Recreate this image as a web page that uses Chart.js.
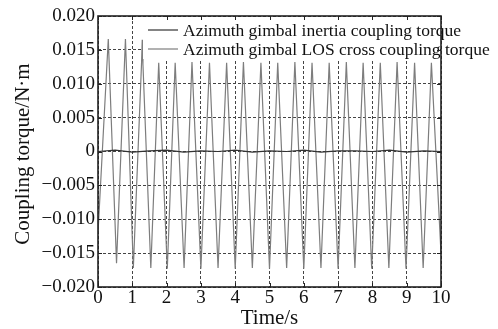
<!DOCTYPE html>
<html>
<head>
<meta charset="utf-8">
<script src="https://cdn.jsdelivr.net/npm/chart.js@4.4.0/dist/chart.umd.min.js"></script>
<style>
  html, body { margin: 0; padding: 0; background: #fff; }
</style>
</head>
<body>
<canvas id="chart" width="498" height="329"></canvas>
<script>
// legend names
const seriesNames = [
  "Azimuth gimbal inertia coupling torque",
  "Azimuth gimbal LOS cross coupling torque"
];

// inertia coupling torque, stays close to zero
const inertiaTime = [0, 0.5, 1, 1.5, 2, 2.5, 3, 3.5, 4, 4.5, 5, 5.5, 6, 6.5, 7, 7.5, 8, 8.5, 9, 9.5, 10];
const inertiaTorque = [0.0000, 0.0002, -0.0001, 0.0001, 0.0002, -0.0001, 0.0001, 0.0000, 0.0002, -0.0001,
  0.0001, 0.0000, 0.0002, -0.0001, 0.0001, 0.0001, 0.0000, 0.0002, -0.0001, 0.0001, 0.0000];

// LOS cross coupling torque, peaks and troughs
const crossTime = [0.00, 0.30, 0.54, 0.80, 1.03, 1.27, 1.29, 1.31, 1.54, 1.77, 2.02, 2.25, 2.51, 2.74, 3.00,
  3.25, 3.50, 3.75, 4.00, 4.24, 4.50, 4.75, 5.00, 5.24, 5.50, 5.74, 6.00, 6.24, 6.50, 6.74, 7.00,
  7.24, 7.49, 7.73, 7.98, 8.23, 8.48, 8.72, 8.98, 9.23, 9.48, 9.72, 10.00];
const crossTorque = [-0.0120, 0.0166, -0.0165, 0.0166, -0.0172, 0.0131, 0.0165, 0.0129, -0.0172, 0.0131, -0.0173,
  0.0131, -0.0172, 0.0132, -0.0173, 0.0131, -0.0172, 0.0131, -0.0173, 0.0132, -0.0172, 0.0131, -0.0173,
  0.0131, -0.0172, 0.0132, -0.0173, 0.0131, -0.0172, 0.0131, -0.0173, 0.0132, -0.0172, 0.0131, -0.0173,
  0.0131, -0.0172, 0.0132, -0.0173, 0.0131, -0.0172, 0.0131, -0.0150];

const xTicks = [0, 1, 2, 3, 4, 5, 6, 7, 8, 9, 10];
const yTicks = [-0.020, -0.015, -0.010, -0.005, 0, 0.005, 0.010, 0.015, 0.020];
const xTitle = "Time/s";
const yTitle = "Coupling torque/N\u00b7m";

const serif = "'Liberation Serif', 'Times New Roman', serif";

function pairs(xs, ys) {
  return xs.map((x, i) => ({ x: x, y: ys[i] }));
}

// white legend box over the top of the plot
const legendBox = {
  id: "legendBox",
  afterDatasetsDraw(chart) {
    let ctx = chart.ctx;
    let area = chart.chartArea;
    ctx.save();
    ctx.fillStyle = "#fff";
    ctx.fillRect(143, area.top + 1, area.right - 144, 42);
    ctx.font = "17.5px " + serif;
    ctx.textBaseline = "middle";
    chart.data.datasets.forEach((ds, i) => {
      let y = 30 + i * 19;
      ctx.strokeStyle = ds.borderColor;
      ctx.lineWidth = 1.2;
      ctx.beginPath();
      ctx.moveTo(148, y);
      ctx.lineTo(178, y);
      ctx.stroke();
      ctx.fillStyle = "#111";
      ctx.fillText(ds.label, 183, y + 1);
    });
    ctx.restore();
  }
};

// frame, inward tick marks and the rotated y title
const frame = {
  id: "frame",
  afterDraw(chart) {
    let ctx = chart.ctx;
    let a = chart.chartArea;
    let xs = chart.scales.x;
    let ys = chart.scales.y;
    ctx.save();
    ctx.strokeStyle = "#222";
    ctx.lineWidth = 1;
    ctx.beginPath();
    xTicks.forEach(t => {
      let px = Math.round(xs.getPixelForValue(t)) + 0.5;
      ctx.moveTo(px, a.bottom); ctx.lineTo(px, a.bottom - 4);
      ctx.moveTo(px, a.top); ctx.lineTo(px, a.top + 4);
    });
    yTicks.forEach(t => {
      let py = Math.round(ys.getPixelForValue(t)) + 0.5;
      ctx.moveTo(a.left, py); ctx.lineTo(a.left + 4, py);
      ctx.moveTo(a.right, py); ctx.lineTo(a.right - 4, py);
    });
    ctx.stroke();
    ctx.lineWidth = 1.6;
    ctx.strokeRect(a.left, a.top, a.right - a.left, a.bottom - a.top);

    ctx.translate(23, 154);
    ctx.rotate(-Math.PI / 2);
    ctx.font = "21px " + serif;
    ctx.fillStyle = "#111";
    ctx.textAlign = "center";
    ctx.textBaseline = "middle";
    ctx.fillText(yTitle, 0, 0);
    ctx.restore();
  }
};

let ctx = document.getElementById("chart").getContext("2d");
let myChart = new Chart(ctx, {
  type: "line",
  data: {
    datasets: [
      {
        label: seriesNames[0],
        data: pairs(inertiaTime, inertiaTorque),
        borderColor: "#333",
        borderWidth: 1.2,
        pointRadius: 0,
        tension: 0
      },
      {
        label: seriesNames[1],
        data: pairs(crossTime, crossTorque),
        borderColor: "#7d7d7d",
        borderWidth: 1.2,
        pointRadius: 0,
        tension: 0
      }
    ]
  },
  options: {
    responsive: false,
    animation: false,
    devicePixelRatio: 1,
    layout: { padding: { top: 16, right: 57, left: 0, bottom: 0 } },
    plugins: {
      legend: { display: false },
      tooltip: { enabled: false }
    },
    scales: {
      x: {
        type: "linear",
        min: 0,
        max: 10,
        afterBuildTicks: scale => { scale.ticks = xTicks.map(v => ({ value: v })); },
        afterFit: scale => { scale.height = 42; },
        ticks: {
          color: "#111",
          font: { family: serif, size: 19 },
          padding: 0,
          maxRotation: 0,
          callback: v => String(v)
        },
        grid: { color: "#444", lineWidth: 1, drawTicks: false },
        border: { display: false, dash: [3, 2] },
        title: {
          display: true,
          text: xTitle,
          color: "#111",
          font: { family: serif, size: 21 },
          padding: { top: 0, bottom: -2 }
        }
      },
      y: {
        type: "linear",
        min: -0.02,
        max: 0.02,
        afterBuildTicks: scale => { scale.ticks = yTicks.map(v => ({ value: v })); },
        afterFit: scale => { scale.width = 98; },
        ticks: {
          color: "#111",
          font: { family: serif, size: 19 },
          padding: 3,
          callback: v => {
            if (Math.abs(v) < 1e-9) return "0";
            return (v < 0 ? "\u2212" : "") + Math.abs(v).toFixed(3);
          }
        },
        grid: { color: "#444", lineWidth: 1, drawTicks: false },
        border: { display: false, dash: [3, 2] },
        title: { display: false }
      }
    }
  },
  plugins: [legendBox, frame]
});
</script>
</body>
</html>
